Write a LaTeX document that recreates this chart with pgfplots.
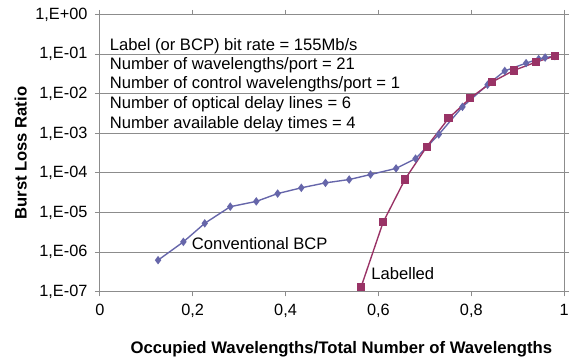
\documentclass[border=0pt]{standalone}
\usepackage{pgfplots}
\pgfplotsset{compat=1.18}
\usepackage{fontspec}
\setmainfont{Liberation Sans}
\definecolor{bcp}{RGB}{102,102,170}
\definecolor{lab}{RGB}{153,51,102}
\definecolor{gridc}{RGB}{140,140,140}
\begin{document}
\begin{tikzpicture}[x=1pt,y=1pt]
\begin{axis}[
  at={(0,0)}, anchor=south west,
  scale only axis, width=470pt, height=280pt,
  xmin=0, xmax=1, ymode=log, ymin=1e-7, ymax=1,
  font=\fontsize{16.5}{19.8}\selectfont,
  axis line style={gridc, line width=0.9pt},
  ymajorgrids, grid style={gridc, line width=0.9pt},
  tick align=outside, major tick length=5pt,
  tick style={gridc, line width=0.9pt},
  yminorticks=false, xminorticks=false,
  xtick={0,0.2,0.4,0.6,0.8,1},
  xticklabels={0,{0,2},{0,4},{0,6},{0,8},1},
  ytick={1e-7,1e-6,1e-5,1e-4,1e-3,1e-2,1e-1,1},
  yticklabels={{1,E-07},{1,E-06},{1,E-05},{1,E-04},{1,E-03},{1,E-02},{1,E-01},{1,E+00}},
  xticklabel style={yshift=-4pt},
  yticklabel style={xshift=-4pt},
  clip=false,
]
\addplot[color=bcp, line width=1.4pt, mark=diamond*, mark size=3.2pt, mark options={solid, fill=bcp}] coordinates {
(0.1255,6.2e-7) (0.180,1.8e-6) (0.226,5.3e-6) (0.281,1.4e-5) (0.337,1.9e-5)
(0.383,3.0e-5) (0.434,4.2e-5) (0.486,5.6e-5) (0.537,6.8e-5) (0.583,9.1e-5)
(0.638,1.3e-4) (0.680,2.3e-4) (0.730,9.4e-4) (0.781,4.7e-3) (0.835,1.7e-2)
(0.872,3.8e-2) (0.918,6.0e-2) (0.945,7.6e-2) (0.959,8.3e-2) (0.980,9.0e-2)
};
\addplot[color=lab, line width=1.4pt, mark=square*, mark size=3.4pt, mark options={solid, fill=lab}] coordinates {
(0.563,1.33e-7) (0.610,5.6e-6) (0.657,6.8e-5) (0.704,4.6e-4) (0.751,2.4e-3)
(0.798,7.9e-3) (0.845,2.0e-2) (0.891,3.9e-2) (0.940,6.4e-2) (0.980,9.1e-2)
};
\end{axis}
\begin{scope}[font=\fontsize{16.8}{20}\selectfont]
\node[anchor=base west, inner sep=0] at (10,244) {Label (or BCP) bit rate = 155Mb/s};
\node[anchor=base west, inner sep=0] at (10,224.5) {Number of wavelengths/port = 21};
\node[anchor=base west, inner sep=0] at (10,205) {Number of control wavelengths/port = 1};
\node[anchor=base west, inner sep=0] at (10,185) {Number of optical delay lines = 6};
\node[anchor=base west, inner sep=0] at (10,165) {Number available delay times = 4};
\node[anchor=base west, inner sep=0] at (93,42) {Conventional BCP};
\node[anchor=base west, inner sep=0] at (274.7,12) {Labelled};
\node[font=\fontsize{16.9}{20}\selectfont\bfseries] at (244.5,-58) {Occupied Wavelengths/Total Number of Wavelengths};
\node[font=\fontsize{16.8}{20}\selectfont\bfseries, rotate=90] at (-80,140) {Burst Loss Ratio};
\end{scope}
\path[use as bounding box] (-101,-68) rectangle (471,295);
\end{tikzpicture}
\end{document}
